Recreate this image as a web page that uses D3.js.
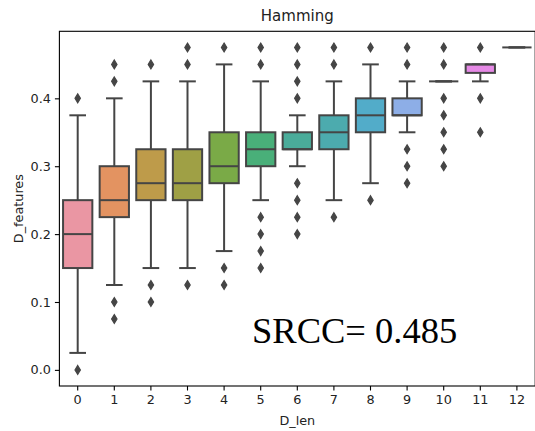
<!DOCTYPE html>
<html>
<head>
<meta charset="utf-8">
<script src="https://cdn.jsdelivr.net/npm/d3@7"></script>
<style>
  html, body { margin: 0; padding: 0; background: #fff; }
  svg { display: block; }
  text { font-family: "DejaVu Sans", sans-serif; }
</style>
</head>
<body>
<svg id="chart" width="535" height="431"></svg>
<script>
// ---- data ----
const categories = ["0","1","2","3","4","5","6","7","8","9","10","11","12"];
const whiskerLow  = [0.025, 0.125, 0.15, 0.15, 0.175, 0.25, 0.30, 0.25, 0.275, 0.35, 0.425, 0.425, 0.475];
const q1          = [0.15, 0.225, 0.25, 0.25, 0.275, 0.30, 0.325, 0.325, 0.35, 0.375, 0.425, 0.4375, 0.475];
const medians     = [0.20, 0.25, 0.275, 0.275, 0.30, 0.325, 0.325, 0.35, 0.375, 0.375, 0.425, 0.45, 0.475];
const q3          = [0.25, 0.30, 0.325, 0.325, 0.35, 0.35, 0.35, 0.375, 0.40, 0.40, 0.425, 0.45, 0.475];
const whiskerHigh = [0.375, 0.40, 0.425, 0.425, 0.45, 0.425, 0.375, 0.425, 0.45, 0.425, 0.425, 0.45, 0.475];
const outliers = [
  [0.40, 0.0],
  [0.45, 0.425, 0.10, 0.075],
  [0.45, 0.125, 0.10],
  [0.475, 0.45, 0.125],
  [0.475, 0.15, 0.125],
  [0.475, 0.45, 0.225, 0.20, 0.175, 0.15],
  [0.475, 0.45, 0.425, 0.40, 0.275, 0.25, 0.225, 0.20],
  [0.475, 0.45, 0.225],
  [0.475, 0.25],
  [0.475, 0.45, 0.325, 0.30, 0.275],
  [0.475, 0.45, 0.40, 0.375, 0.35, 0.325, 0.30],
  [0.475, 0.40, 0.35],
  []
];
const yTicks = [0.0, 0.1, 0.2, 0.3, 0.4];
const titleText = "Hamming";
const xLabel = "D_len";
const yLabel = "D_features";
const annotation = "SRCC= 0.485";

(function () {
// ---- seaborn husl palette (h=.01, s=.9, l=.7), desaturated 0.75 ----
function huslToRgb(H, S, L) {
  const m = [[3.2406, -1.5372, -0.4986], [-0.9689, 1.8758, 0.0415], [0.0557, -0.2040, 1.0570]];
  const refU = 0.19784, refV = 0.46834, kappa = 903.2962962, eps = 0.0088564516;
  function bounds(L) {
    const out = [];
    const sub1 = Math.pow(L + 16, 3) / 1560896;
    const sub2 = sub1 > eps ? sub1 : L / kappa;
    for (const [m1, m2, m3] of m) {
      for (const t of [0, 1]) {
        const top1 = (284517 * m1 - 94839 * m3) * sub2;
        const top2 = (838422 * m3 + 769860 * m2 + 731718 * m1) * L * sub2 - 769860 * t * L;
        const bottom = (632260 * m3 - 126452 * m2) * sub2 + 126452 * t;
        out.push([top1 / bottom, top2 / bottom]);
      }
    }
    return out;
  }
  function maxChroma(L, H) {
    const hr = H / 360 * Math.PI * 2;
    let min = Infinity;
    for (const [s, i] of bounds(L)) {
      const len = i / (Math.sin(hr) - s * Math.cos(hr));
      if (len >= 0 && len < min) min = len;
    }
    return min;
  }
  const C = maxChroma(L, H) / 100 * S;
  const hr = H / 360 * Math.PI * 2;
  const U = C * Math.cos(hr), V = C * Math.sin(hr);
  const varU = U / (13 * L) + refU, varV = V / (13 * L) + refV;
  const Y = L <= 8 ? L / kappa : Math.pow((L + 16) / 116, 3);
  const X = -(9 * Y * varU) / ((varU - 4) * varV - varU * varV);
  const Z = (9 * Y - 15 * varV * Y - varV * X) / (3 * varV);
  const lin = m.map(r => r[0] * X + r[1] * Y + r[2] * Z);
  return lin.map(c => {
    let v = c <= 0.0031308 ? 12.92 * c : 1.055 * Math.pow(c, 1 / 2.4) - 0.055;
    return Math.max(0, Math.min(1, v));
  });
}
const n = categories.length;
const palette = d3.range(n).map(i => {
  const h = ((i / n + 0.01) % 1) * 359;
  const rgb = huslToRgb(h, 0.9 * 99, 0.7 * 99);
  const c = d3.hsl(d3.rgb(rgb[0] * 255, rgb[1] * 255, rgb[2] * 255));
  c.s *= 0.75;
  return c.rgb();
});
const lum = d3.min(palette, c => d3.hsl(c).l) * 0.6;
const gray = d3.rgb(lum * 255, lum * 255, lum * 255).formatHex();

// ---- layout ----
const svg = d3.select("#chart");
const pLeft = 59.4, pRight = 535.2, pTop = 31.3, pBottom = 386;

const x = d3.scaleBand().domain(categories).range([pLeft, pRight])
  .paddingInner(0.2).paddingOuter(0.1);
const bw = x.step() * 0.8;
const y = d3.scaleLinear().domain([-0.02375, 0.49875]).range([pBottom, pTop]);

const lw = 2;
const g = svg.append("g");
const thinDiamond = {draw(ctx) { ctx.moveTo(0, -4.4); ctx.lineTo(2.7, 0); ctx.lineTo(0, 4.4); ctx.lineTo(-2.7, 0); ctx.closePath(); }};

categories.forEach((cat, i) => {
  const cx = x(cat) + x.bandwidth() / 2;
  const grp = g.append("g");
  grp.append("line").attr("x1", cx).attr("x2", cx)
    .attr("y1", y(q1[i])).attr("y2", y(whiskerLow[i]))
    .attr("stroke", gray).attr("stroke-width", lw);
  grp.append("line").attr("x1", cx).attr("x2", cx)
    .attr("y1", y(q3[i])).attr("y2", y(whiskerHigh[i]))
    .attr("stroke", gray).attr("stroke-width", lw);
  [whiskerLow[i], whiskerHigh[i]].forEach(v => {
    grp.append("line").attr("x1", cx - bw / 4).attr("x2", cx + bw / 4)
      .attr("y1", y(v)).attr("y2", y(v))
      .attr("stroke", gray).attr("stroke-width", lw).attr("stroke-linecap", "square");
  });
  grp.append("rect").attr("x", cx - bw / 2).attr("width", bw)
    .attr("y", y(q3[i])).attr("height", Math.max(0, y(q1[i]) - y(q3[i])))
    .attr("fill", palette[i]).attr("stroke", gray).attr("stroke-width", lw);
  grp.append("line").attr("x1", cx - bw / 2).attr("x2", cx + bw / 2)
    .attr("y1", y(medians[i])).attr("y2", y(medians[i]))
    .attr("stroke", gray).attr("stroke-width", lw);
  grp.selectAll("path.fl").data(outliers[i]).join("path")
    .attr("class", "fl")
    .attr("d", d3.symbol().type(thinDiamond))
    .attr("transform", v => `translate(${cx},${y(v)})`)
    .attr("fill", gray).attr("stroke", gray).attr("stroke-width", 1.2);
});

// frame
svg.append("rect").attr("x", pLeft).attr("y", pTop)
  .attr("width", pRight - pLeft).attr("height", pBottom - pTop)
  .attr("fill", "none").attr("stroke", "#000").attr("stroke-width", 1.1);

// axes
const xAxis = svg.append("g").attr("transform", `translate(0,${pBottom})`)
  .call(d3.axisBottom(x).tickSizeOuter(0).tickSize(4.5).tickPadding(4));
const yAxis = svg.append("g").attr("transform", `translate(${pLeft},0)`)
  .call(d3.axisLeft(y).tickValues(yTicks).tickFormat(d3.format(".1f")).tickSizeOuter(0).tickSize(4.5).tickPadding(4));
[xAxis, yAxis].forEach(a => {
  a.select(".domain").remove();
  a.selectAll(".tick line").attr("stroke", "#000").attr("stroke-width", 1.1);
  a.selectAll(".tick text").attr("fill", "#222").style("font-size", "12.8px")
    .style("font-family", "'DejaVu Sans', sans-serif");
});

// title & labels
svg.append("text").attr("x", (pLeft + pRight) / 2).attr("y", 21)
  .attr("text-anchor", "middle").attr("fill", "#222").style("font-size", "15px").text(titleText);
svg.append("text").attr("x", (pLeft + pRight) / 2).attr("y", 425)
  .attr("text-anchor", "middle").attr("fill", "#222").style("font-size", "12.8px").text(xLabel);
svg.append("text").attr("transform", `translate(22.5,${(pTop + pBottom) / 2}) rotate(-90)`)
  .attr("text-anchor", "middle").attr("fill", "#222").style("font-size", "12.8px").text(yLabel);

// annotation
svg.append("text").attr("x", 252).attr("y", 342.5)
  .style("font-family", "'Liberation Serif', 'Times New Roman', serif")
  .style("font-size", "36.5px").attr("fill", "#000").text(annotation);
})();
</script>
</body>
</html>
